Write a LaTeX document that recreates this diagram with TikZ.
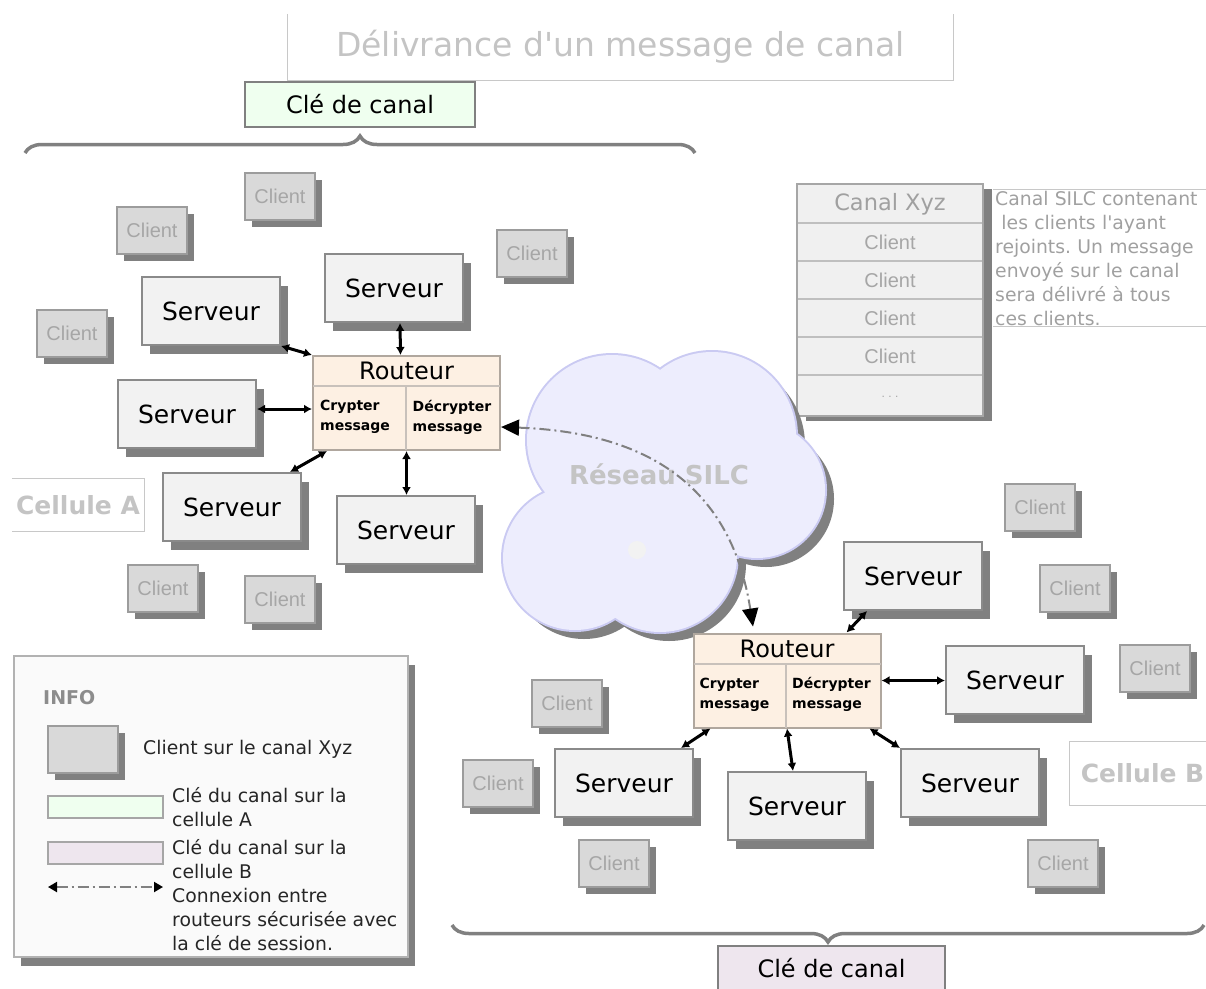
\documentclass[tikz,border=0pt]{standalone}
\usepackage{fontspec}
\setmainfont{DejaVu Sans}[Ligatures=TeXReset]
\newfontfamily\clientfont{Liberation Sans}
\usetikzlibrary{arrows.meta,calc,shadows,decorations.pathreplacing}
\frenchspacing

\definecolor{ombre}{HTML}{808080}
\definecolor{bordure}{HTML}{8A8A8A}
\definecolor{fondserveur}{HTML}{F2F2F2}
\definecolor{fondclient}{HTML}{D9D9D9}
\definecolor{texteclient}{HTML}{A6A6A6}
\definecolor{fondrouteur}{HTML}{FDF0E3}
\definecolor{bordrouteur}{HTML}{B0A79E}
\definecolor{nuage}{HTML}{EDEDFD}
\definecolor{bordnuage}{HTML}{CACAF2}
\definecolor{clevert}{HTML}{EFFFEF}
\definecolor{clemauve}{HTML}{EEE6EE}
\definecolor{grisclair}{HTML}{C4C4C4}
\definecolor{grisligne}{HTML}{C8C8C8}
\definecolor{gristexte}{HTML}{A0A0A0}

\begin{document}
\begin{tikzpicture}[x=1pt, y=-1pt,
  serveur/.style={draw=bordure, line width=2pt, fill=fondserveur, minimum width=138pt, minimum height=68pt, inner sep=0pt, font=\fontsize{25}{30}\selectfont, drop shadow={shadow xshift=8pt, shadow yshift=-9pt, fill=ombre, opacity=1}},
  client/.style={draw=bordure!85, line width=2pt, fill=fondclient, minimum width=70pt, minimum height=47pt, inner sep=0pt, text=texteclient, font=\clientfont\fontsize{20}{24}\selectfont, drop shadow={shadow xshift=7pt, shadow yshift=-7pt, fill=ombre, opacity=1}},
  routeur/.style={draw=bordrouteur, line width=2pt, fill=fondrouteur, minimum width=187pt, minimum height=94pt, inner sep=0pt},
  routeur ligne/.style={draw=bordrouteur!70, line width=2pt},
  routeur titre/.style={inner sep=0pt, font=\fontsize{24}{28}\selectfont},
  routeur cellule/.style={inner sep=0pt, anchor=west, align=left, font=\bfseries\fontsize{14}{20}\selectfont},
  connexion/.style={line width=3pt, {Latex[length=8pt,width=9pt]}-{Latex[length=8pt,width=9pt]}},
  lien securise/.style={draw=ombre, line width=2pt, dash pattern=on 11pt off 4pt on 2pt off 4pt, {Triangle[length=18pt,width=16pt,color=black]}-{Triangle[length=18pt,width=16pt,color=black]}},
  cle/.style={draw=ombre, line width=2pt, minimum height=45pt, inner sep=0pt, font=\fontsize{24}{28}\selectfont},
  accolade/.style={draw=ombre, line width=3.5pt, decorate, decoration={brace, amplitude=17pt}},
  bordure legere/.style={draw=grisligne, line width=1pt},
  cellule/.style={inner sep=0pt, text=grisclair, font=\bfseries\fontsize{25}{30}\selectfont},
  legende/.style={inner sep=0pt, anchor=west, align=left, text=black!85, font=\fontsize{18.8}{24}\selectfont}
]
\useasboundingbox (0,0) rectangle (1206,988);

% Titre
\node[inner sep=0pt, minimum width=665pt, minimum height=66pt, text=grisclair, font=\fontsize{33}{38}\selectfont] (titre) at (620.5,47) {Délivrance d'un message de canal};
\draw[bordure legere] (titre.north west) -- (titre.south west) -- (titre.south east) -- (titre.north east);

% Cle de canal, cellule A
\node[cle, fill=clevert, minimum width=230pt] (cle-a) at (360,104.5) {Clé de canal};
\draw[accolade] (25,153) -- (695,153);

% Cle de canal, cellule B
\node[cle, fill=clemauve, minimum width=227pt] (cle-b) at (831.5,968) {Clé de canal};
\draw[accolade] (1204,925) -- (452,925);

% Noms des cellules
\node[cellule, minimum width=132pt, minimum height=52pt] (cellule-a) at (78,505) {Cellule A};
\draw[bordure legere] (cellule-a.north west) -- (cellule-a.north east) -- (cellule-a.south east) -- (cellule-a.south west);
\node[cellule, minimum width=145pt, minimum height=63pt] (cellule-b) at (1142.5,773.5) {Cellule B};
\draw[bordure legere] (cellule-b.north east) -- (cellule-b.north west) -- (cellule-b.south west) -- (cellule-b.south east);

% Clients
\node[client] (c1) at (280,196) {Client};
\node[client] (c2) at (152,230) {Client};
\node[client] (c3) at (72,333) {Client};
\node[client] (c4) at (532,253) {Client};
\node[client] (c5) at (163,588) {Client};
\node[client] (c6) at (280,599) {Client};
\node[client] (c7) at (1040,507) {Client};
\node[client] (c8) at (1075,588) {Client};
\node[client] (c9) at (1155,668) {Client};
\node[client] (c10) at (567,703) {Client};
\node[client] (c11) at (498,783) {Client};
\node[client] (c12) at (614,863) {Client};
\node[client] (c13) at (1063,863) {Client};

% Canal Xyz et ses membres
\node[draw=black!35, line width=2pt, fill=black!6, minimum width=186pt, minimum height=232pt, inner sep=0pt,
  drop shadow={shadow xshift=9pt, shadow yshift=-5pt, fill=ombre, opacity=1}] (canal) at (890,300) {};
\draw[draw=black!25, line width=2pt] (798,223) -- (982,223);
\draw[draw=black!25, line width=2pt] (798,261) -- (982,261);
\draw[draw=black!25, line width=2pt] (798,299) -- (982,299);
\draw[draw=black!25, line width=2pt] (798,337) -- (982,337);
\draw[draw=black!25, line width=2pt] (798,375) -- (982,375);
\node[inner sep=0pt, text=gristexte, font=\fontsize{22.5}{26}\selectfont] (canal-titre) at (890,204) {Canal Xyz};
\node[inner sep=0pt, text=texteclient, font=\clientfont\fontsize{20}{24}\selectfont] (canal-c1) at (890,242) {Client};
\node[inner sep=0pt, text=texteclient, font=\clientfont\fontsize{20}{24}\selectfont] (canal-c2) at (890,280) {Client};
\node[inner sep=0pt, text=texteclient, font=\clientfont\fontsize{20}{24}\selectfont] (canal-c3) at (890,318) {Client};
\node[inner sep=0pt, text=texteclient, font=\clientfont\fontsize{20}{24}\selectfont] (canal-c4) at (890,356) {Client};
\node[inner sep=0pt, text=texteclient, font=\clientfont\fontsize{12}{14}\selectfont] (canal-etc) at (890,397) {. . .};

% Explication du canal
\node[inner sep=2pt, anchor=north west, text width=209pt, align=left, text=gristexte, font=\fontsize{18.8}{24}\selectfont] (desc) at (993,189)
  {Canal SILC contenant\\\ les clients l'ayant\\rejoints. Un message\\envoyé sur le canal\\sera délivré à tous\\ces clients.};
\draw[bordure legere] (desc.north west) -- (desc.north east);
\draw[bordure legere] ($(desc.north west)+(0,137)$) -- ($(desc.north east)+(0,137)$);

% Reseau SILC
\begin{scope}[shift={(9,9)}]
  \fill[ombre] (612,440) circle (85pt) (712,436) circle (84pt) (757,490) circle (68pt)
    (575,558) circle (72pt) (660,555) circle (77pt) (655,490) circle (80pt);
\end{scope}
\draw[bordnuage, line width=4pt] (612,440) circle (85pt) (712,436) circle (84pt) (757,490) circle (68pt)
  (575,558) circle (72pt) (660,555) circle (77pt) (655,490) circle (80pt);
\fill[nuage] (612,440) circle (85pt) (712,436) circle (84pt) (757,490) circle (68pt)
  (575,558) circle (72pt) (660,555) circle (77pt) (655,490) circle (80pt);
\fill[black!5] (637,550) circle (9pt);
\node[inner sep=0pt, text=grisclair, font=\bfseries\fontsize{26}{30}\selectfont] (reseau) at (659,474) {Réseau SILC};

% Cellule A : serveurs et routeur
\node[serveur] (sa1) at (211,311) {Serveur};
\node[serveur] (sa2) at (394,288) {Serveur};
\node[serveur] (sa3) at (187,414) {Serveur};
\node[serveur] (sa4) at (232,507) {Serveur};
\node[serveur] (sa5) at (406,530) {Serveur};

\node[routeur] (ra) at (406.5,403) {};
\draw[routeur ligne] ($(ra.north west)+(1,31)$) -- ($(ra.north east)+(-1,31)$);
\draw[routeur ligne] ($(ra.north)+(-1,31)$) -- ($(ra.south)+(-1,-1)$);
\node[routeur titre] (ra-titre) at ($(ra.north)+(0,16)$) {Routeur};
\node[routeur cellule] (ra-crypter) at ($(ra.west)+(8,14)$) {Crypter\\message};
\node[routeur cellule] (ra-decrypter) at ($(ra.center)+(6,14)$) {Décrypter\\message};

\draw[connexion] (sa1.south east) -- (ra.north west);
\draw[connexion] ($(sa2.south)+(6,0)$) -- ($(ra.north)+(-6,0)$);
\draw[connexion] ($(sa3.east)+(0,-5)$) -- ($(ra.west)+(0,6)$);
\draw[connexion] ($(sa4.north east)+(-12,0)$) -- ($(ra.south west)+(15,0)$);
\draw[connexion] (ra.south) -- (ra.south |- sa5.north);

% Cellule B : serveurs et routeur
\node[serveur] (sb1) at (913,576) {Serveur};
\node[serveur] (sb2) at (1015,680) {Serveur};
\node[serveur] (sb3) at (970,783) {Serveur};
\node[serveur] (sb4) at (797,806) {Serveur};
\node[serveur] (sb5) at (624,783) {Serveur};

\node[routeur] (rb) at (787,680.5) {};
\draw[routeur ligne] ($(rb.north west)+(1,31)$) -- ($(rb.north east)+(-1,31)$);
\draw[routeur ligne] ($(rb.north)+(-1,31)$) -- ($(rb.south)+(-1,-1)$);
\node[routeur titre] (rb-titre) at ($(rb.north)+(0,16)$) {Routeur};
\node[routeur cellule] (rb-crypter) at ($(rb.west)+(7,14)$) {Crypter\\message};
\node[routeur cellule] (rb-decrypter) at ($(rb.center)+(5,14)$) {Décrypter\\message};

\draw[connexion] ($(sb1.south west)+(24,0)$) -- ($(rb.north east)+(-35,0)$);
\draw[connexion] (rb.east) -- (rb.east -| sb2.west);
\draw[connexion] ($(rb.south east)+(-12,0)$) -- (sb3.north west);
\draw[connexion] (rb.south) -- ($(sb4.north)+(-4,0)$);
\draw[connexion] ($(rb.south west)+(18,0)$) -- ($(sb5.north east)+(-13,0)$);

% Connexion securisee entre les deux routeurs
\draw[lien securise] ($(ra.east)+(0,24)$) .. controls +(138,5) and +(-23,-147) .. ($(rb.north)+(-34,-6)$);

% Legende
\node[draw=black!30, line width=2pt, fill=black!2, minimum width=394pt, minimum height=301pt, inner sep=0pt,
  drop shadow={shadow xshift=7pt, shadow yshift=-9pt, fill=ombre, opacity=1}] (info) at (211,806.5) {};
\node[inner sep=0pt, anchor=west, text=black!45, font=\bfseries\fontsize{19}{22}\selectfont] (info-titre) at (43,698) {INFO};
\node[client] (leg-client) at (83,749.5) {};
\node[legende] (leg-client-txt) at (143,749) {Client sur le canal Xyz};
\node[draw=black!35, line width=2pt, fill=clevert, minimum width=115pt, minimum height=22pt, inner sep=0pt] (leg-cle-a) at (105.5,807) {};
\node[legende] (leg-cle-a-txt) at (172,807) {Clé du canal sur la\\cellule A};
\node[draw=black!35, line width=2pt, fill=clemauve, minimum width=115pt, minimum height=22pt, inner sep=0pt] (leg-cle-b) at (105.5,853) {};
\node[legende] (leg-cle-b-txt) at (172,859) {Clé du canal sur la\\cellule B};
\coordinate (leg-g) at (48,887);
\coordinate (leg-d) at (163,887);
\draw[draw=ombre, line width=2pt, dash pattern=on 11pt off 4pt on 2pt off 4pt, {Triangle[length=9pt,width=10pt,color=black]}-{Triangle[length=9pt,width=10pt,color=black]}] (leg-g) -- (leg-d);
\node[legende] (leg-lien-txt) at (172,919.5) {Connexion entre\\routeurs sécurisée avec\\la clé de session.};
\end{tikzpicture}
\end{document}
